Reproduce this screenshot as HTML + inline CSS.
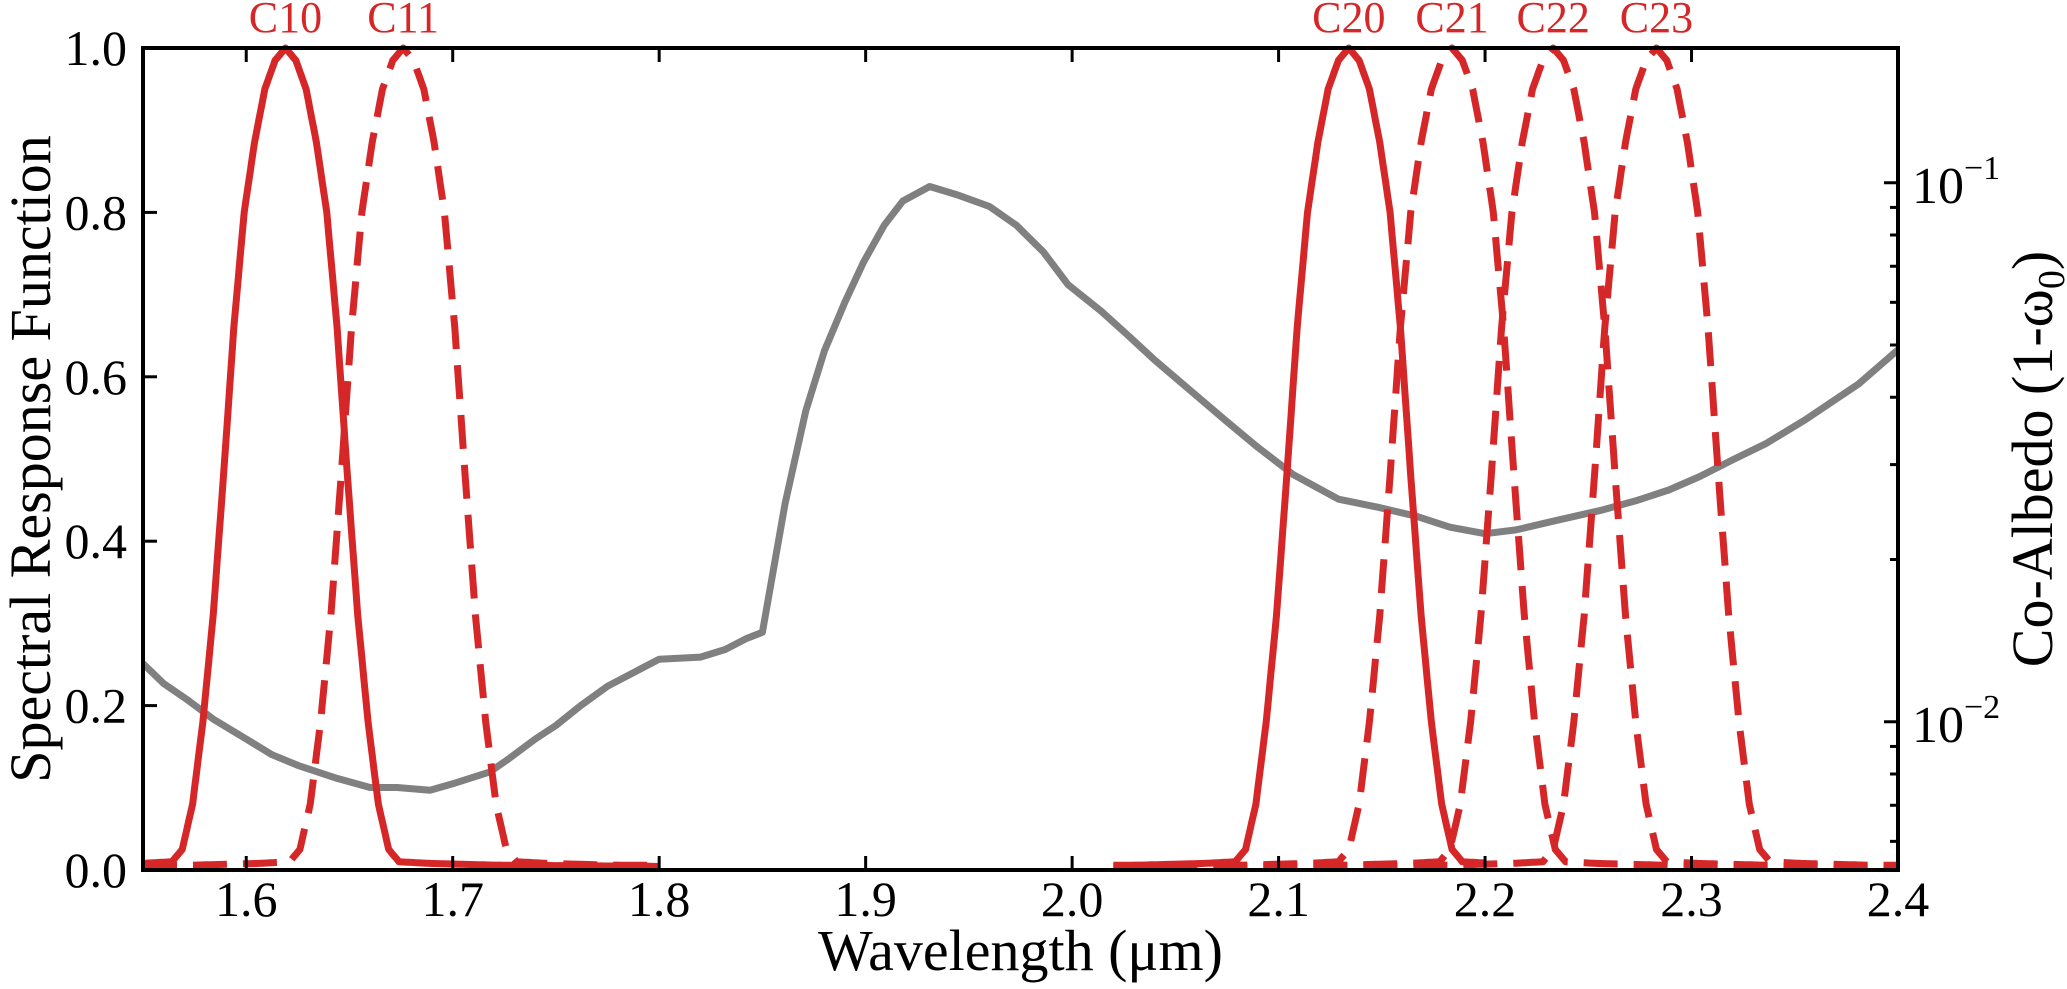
<!DOCTYPE html>
<html><head><meta charset="utf-8"><style>
html,body{margin:0;padding:0;background:#fff;}
svg{display:block;font-family:"Liberation Serif",serif;}
</style></head><body>
<svg id="chart" width="2067" height="989" viewBox="0 0 2067 989" xmlns="http://www.w3.org/2000/svg"></svg>
<script>
// ---- data ----
const xTicks = [1.6,1.7,1.8,1.9,2.0,2.1,2.2,2.3,2.4];
const xTickLabels = ["1.6","1.7","1.8","1.9","2.0","2.1","2.2","2.3","2.4"];
const yTicks = [0,0.2,0.4,0.6,0.8,1.0];
const yTickLabels = ["0.0","0.2","0.4","0.6","0.8","1.0"];
const bandNames = ["C10","C11","C20","C21","C22","C23"];
const bandCenters = [1.619,1.676,2.134,2.184,2.233,2.283];
const bandDashed = [false,true,false,true,true,true];
const bandLo = [1.55,1.55,2.02,2.02,2.02,2.02];
const bandHi = [1.80,1.80,2.20,2.40,2.40,2.40];
const profileOffsets = [0,0.005,0.01,0.015,0.02,0.025,0.03,0.035,0.04,0.045,0.05,0.055,0.07,0.1,0.2];
const profileValues = [1,0.985,0.95,0.885,0.8,0.66,0.48,0.31,0.18,0.08,0.025,0.01,0.008,0.006,0.004];
const greyWl = [1.55,1.56,1.571,1.584,1.60,1.6125,1.625,1.644,1.66,1.673,1.689,1.70,1.718,1.727,1.74,1.75,1.762,1.775,1.791,1.80,1.82,1.832,1.842,1.85,1.861,1.871,1.88,1.89,1.899,1.909,1.918,1.931,1.944,1.96,1.973,1.986,1.998,2.014,2.027,2.04,2.059,2.074,2.09,2.107,2.129,2.148,2.167,2.183,2.20,2.215,2.234,2.257,2.273,2.289,2.304,2.32,2.336,2.355,2.381,2.40];
const greyLog = [-1.892,-1.929,-1.958,-1.995,-2.032,-2.061,-2.081,-2.105,-2.122,-2.122,-2.127,-2.115,-2.093,-2.069,-2.032,-2.007,-1.970,-1.934,-1.902,-1.884,-1.880,-1.866,-1.846,-1.834,-1.595,-1.423,-1.312,-1.221,-1.147,-1.079,-1.034,-1.007,-1.022,-1.044,-1.079,-1.128,-1.189,-1.238,-1.283,-1.329,-1.391,-1.440,-1.491,-1.541,-1.587,-1.602,-1.619,-1.639,-1.651,-1.644,-1.627,-1.607,-1.590,-1.570,-1.545,-1.514,-1.484,-1.440,-1.373,-1.310];

// ---- layout ----
const L=143,R=1898,T=48,B=870;
const X0=1.55,X1=2.4, LOGMIN=-2.275, LOGMAX=-0.75;
const xs=v=>L+(v-X0)/(X1-X0)*(R-L);
const ys=v=>B-v*(B-T);
const yr=lg=>B-(lg-LOGMIN)/(LOGMAX-LOGMIN)*(B-T);
const NS="http://www.w3.org/2000/svg";
const svg=document.getElementById('chart');
function mk(tag,attrs,parent){const e=document.createElementNS(NS,tag);for(const k in attrs)e.setAttribute(k,attrs[k]);(parent||svg).appendChild(e);return e;}
function prof(o){o=Math.abs(o);for(let i=1;i<profileOffsets.length;i++){if(o<=profileOffsets[i]){const a=profileOffsets[i-1],b=profileOffsets[i];const t=(o-a)/(b-a);return profileValues[i-1]+t*(profileValues[i]-profileValues[i-1]);}}return profileValues[profileValues.length-1];}

const clip=mk('clipPath',{id:'pc'});mk('rect',{x:L,y:T-8,width:R-L,height:B-T+8},clip);

// grey co-albedo
let gd='';greyWl.forEach((w,i)=>{gd+=(i?'L':'M')+xs(w).toFixed(1)+','+yr(greyLog[i]).toFixed(1);});
const g=mk('path',{d:gd,fill:'none',stroke:'#808080','stroke-width':7,'stroke-linejoin':'round','clip-path':'url(#pc)'});



// bands
bandNames.forEach((n,i)=>{
  let d='';let first=true;
  for(let w=bandLo[i];w<=bandHi[i]+1e-9;w+=0.001){d+=(first?'M':'L')+xs(w).toFixed(1)+','+ys(prof(w-bandCenters[i])).toFixed(1);first=false;}
  const p=mk('path',{d:d,fill:'none',stroke:'#d62728','stroke-width':7,'stroke-linejoin':'round','clip-path':'url(#pc)'});
  if(bandDashed[i])p.setAttribute('stroke-dasharray','34,16');
  
  
  const t=mk('text',{x:xs(bandCenters[i]),y:32,'text-anchor':'middle','font-size':44,fill:'#d62728'});
  t.textContent=n;
  
  
});

// frame
const fr=mk('rect',{x:L,y:T,width:R-L,height:B-T,fill:'none',stroke:'#000','stroke-width':4});



// x ticks
xTicks.forEach((v,i)=>{
  const x=xs(v);
  if(v<X1){mk('line',{x1:x,y1:B,x2:x,y2:B-14,stroke:'#000','stroke-width':3});mk('line',{x1:x,y1:T,x2:x,y2:T+14,stroke:'#000','stroke-width':3});}
  const t=mk('text',{x:x,y:916,'text-anchor':'middle','font-size':50});
  t.textContent=xTickLabels[i];
  
  
});
// y ticks
yTicks.forEach((v,i)=>{
  const y=ys(v);
  mk('line',{x1:L,y1:y,x2:L+14,y2:y,stroke:'#000','stroke-width':3});
  const t=mk('text',{x:127,y:y+17,'text-anchor':'end','font-size':50});
  t.textContent=yTickLabels[i];
  
  
});
// right log ticks
[-3,-2,-1].forEach(dec=>{for(let m=1;m<10;m++){const lg=dec+Math.log10(m);if(lg<LOGMIN||lg>LOGMAX)continue;const y=yr(lg);mk('line',{x1:R,y1:y,x2:R-(m===1?14:8),y2:y,stroke:'#000','stroke-width':3});}});
[-1,-2].forEach(e=>{
  const t=mk('text',{x:1912,y:yr(e)+20,'font-size':52});
  t.textContent='10';
  const s=mk('tspan',{dy:-24,'font-size':34},t);
  s.textContent='\u2212'+(-e);
  
  
});

// titles
const xt=mk('text',{x:(L+R)/2,y:970,'text-anchor':'middle','font-size':58});
xt.textContent='Wavelength (\u03bcm)';


const yt=mk('text',{x:0,y:0,'text-anchor':'middle','font-size':58,transform:'translate(50,'+((T+B)/2)+') rotate(-90)'});
yt.textContent='Spectral Response Function';


const rt=mk('text',{x:0,y:0,'text-anchor':'middle','font-size':58,transform:'translate(2052,'+((T+B)/2)+') rotate(-90)'});
rt.textContent='Co-Albedo (1-\u03c9';
const sub=mk('tspan',{'font-size':38,dy:12},rt);sub.textContent='0';
const cl=mk('tspan',{dy:-12},rt);cl.textContent=')';


</script>
</body></html>
